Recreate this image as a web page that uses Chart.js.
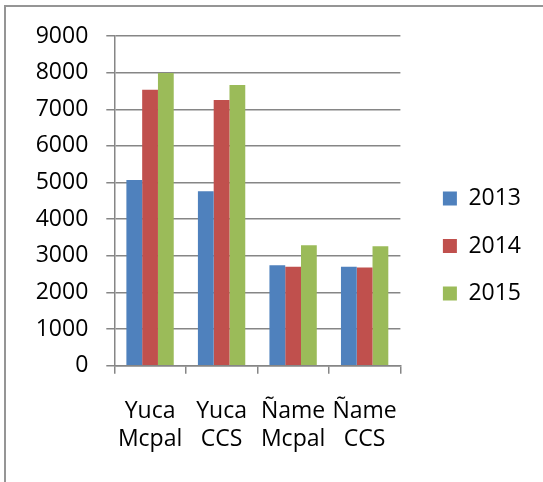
<!DOCTYPE html>
<html>
<head>
<meta charset="utf-8">
<script src="https://cdn.jsdelivr.net/npm/chart.js@4"></script>
<style>
  html, body { margin: 0; padding: 0; background: #fff; }
  #wrap { position: relative; width: 543px; height: 482px; overflow: hidden; }
  #frame { position: absolute; left: 4px; top: 5px; width: 600px; height: 600px;
           border-top: 2px solid #959595; border-left: 2px solid #959595; }
  canvas { position: absolute; left: 0; top: 0; }
</style>
</head>
<body>
<div id="wrap">
  <div id="frame"></div>
  <canvas id="produccionChart" width="543" height="482"></canvas>
</div>
<script>
// ==========================
// DATOS
// ==========================

const categorias = [
    ['Yuca', 'Mcpal'],
    ['Yuca', 'CCS'],
    ['Ñame', 'Mcpal'],
    ['Ñame', 'CCS']
];

const valores2013 = [5070, 4760, 2740, 2700];
const valores2014 = [7530, 7250, 2700, 2680];
const valores2015 = [7990, 7660, 3290, 3260];

const ejeYMax = 9000;
const ejeYPaso = 1000;

// ==========================
// GRAFICO DE BARRAS
// ==========================

const fuente = { family: "'Open Sans', sans-serif", size: 23 };
const gris = '#868686';

const ctx = document.getElementById('produccionChart');

new Chart(ctx, {

    type: 'bar',

    data: {

        labels: categorias,

        datasets: [
            { label: '2013', data: valores2013, backgroundColor: '#4f81bd' },
            { label: '2014', data: valores2014, backgroundColor: '#c0504d' },
            { label: '2015', data: valores2015, backgroundColor: '#9bbb59' }
        ]

    },

    options: {

        responsive: false,

        animation: false,

        categoryPercentage: 0.662,

        barPercentage: 1,

        layout: {
            padding: { top: 36, bottom: 26, left: 0, right: 12 }
        },

        plugins: {

            legend: {
                position: 'right',
                maxWidth: 140,
                labels: {
                    boxWidth: 14,
                    boxHeight: 14,
                    padding: 24.5,
                    color: '#000',
                    font: fuente
                }
            },

            tooltip: { enabled: false }

        },

        scales: {

            x: {
                grid: {
                    drawOnChartArea: false,
                    color: gris,
                    lineWidth: 1.5,
                    tickLength: 8
                },
                border: { color: gris, width: 1.5 },
                ticks: {
                    color: '#000',
                    padding: 23,
                    maxRotation: 0,
                    autoSkip: false,
                    font: { ...fuente, lineHeight: 1.25 }
                },
                afterFit: (scale) => { scale.height = 90.3; }
            },

            y: {
                min: 0,
                max: ejeYMax,
                grid: {
                    color: gris,
                    lineWidth: 1.5,
                    tickLength: 8
                },
                border: { color: gris, width: 1.5 },
                ticks: {
                    stepSize: ejeYPaso,
                    color: '#000',
                    padding: 18,
                    font: fuente,
                    callback: (v) => String(v)
                },
                afterFit: (scale) => { scale.width = 114.3; }
            },

            espacio: {
                position: 'right',
                grid: { display: false },
                border: { display: false },
                ticks: { display: false },
                afterFit: (scale) => { scale.width = 18; }
            }

        }

    }

});
</script>
</body>
</html>
